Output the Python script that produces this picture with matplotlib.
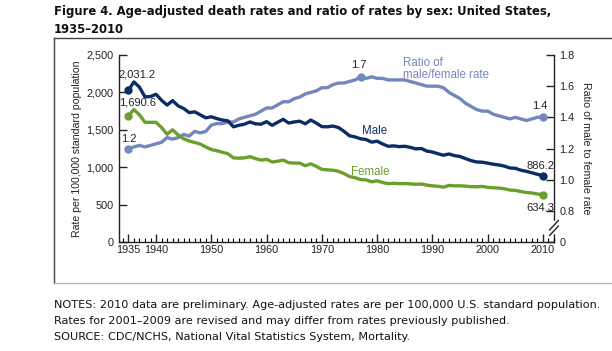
import matplotlib.pyplot as plt
from matplotlib.ticker import MultipleLocator, FuncFormatter
from matplotlib.lines import Line2D

years = list(range(1935, 2011))

male = [2031.2, 2140, 2070, 1940, 1945, 1975, 1895, 1830, 1890, 1820,
        1785, 1730, 1740, 1700, 1660, 1674, 1650, 1630, 1620, 1540,
        1560, 1575, 1605, 1580, 1575, 1609, 1560, 1600, 1640, 1590,
        1605, 1615, 1580, 1630, 1590, 1542, 1540, 1550, 1530, 1480,
        1420, 1405, 1380, 1370, 1335, 1348, 1310, 1280, 1285, 1275,
        1280, 1265, 1245, 1250, 1215, 1203, 1180, 1160, 1177, 1155,
        1143, 1115, 1088, 1070, 1067, 1054, 1040, 1030, 1015, 990,
        985, 960, 945, 925, 905, 886.2]

female = [1690.6, 1770, 1700, 1600, 1600, 1600, 1530, 1440, 1500, 1430,
          1380, 1350, 1330, 1310, 1270, 1236, 1220, 1200, 1180, 1125,
          1120, 1125, 1140, 1115, 1095, 1105, 1070, 1080, 1095, 1060,
          1055, 1055, 1020, 1045, 1010, 971, 965, 960, 945, 915,
          875, 860, 835, 830, 805, 818, 795, 780, 785, 780,
          781, 777, 772, 775, 760, 751, 745, 733, 756, 751,
          751, 747, 740, 738, 743, 731, 725, 721, 712, 695,
          690, 675, 662, 655, 642, 634.3]

ratio = [1.20, 1.21, 1.22, 1.21, 1.22, 1.23, 1.24, 1.27, 1.26, 1.27,
         1.29, 1.28, 1.31, 1.30, 1.31, 1.35, 1.36, 1.36, 1.37, 1.37,
         1.39, 1.40, 1.41, 1.42, 1.44, 1.46, 1.46, 1.48, 1.50, 1.50,
         1.52, 1.53, 1.55, 1.56, 1.57, 1.59, 1.59, 1.61, 1.62, 1.62,
         1.63, 1.64, 1.66, 1.65, 1.66, 1.65, 1.65, 1.64, 1.64, 1.64,
         1.64, 1.63, 1.62, 1.61, 1.60, 1.60, 1.60, 1.59, 1.56, 1.54,
         1.52, 1.49, 1.47, 1.45, 1.44, 1.44, 1.42, 1.41, 1.40, 1.39,
         1.40, 1.39, 1.38, 1.39, 1.40, 1.40]

xtick_years = [1935, 1940, 1950, 1960, 1970, 1980, 1990, 2000, 2010]
ratio_ticks = [0.6, 0.8, 1.0, 1.2, 1.4, 1.6, 1.8]
ratio_tick_labels = ["0", "0.8", "1.0", "1.2", "1.4", "1.6", "1.8"]

MALE_C = "#0b2d64"
FEMALE_C = "#6b9e2c"
RATIO_C = "#7386be"
TXT = "#222222"

W, H = 612, 351
plt.rcParams["font.family"] = ["Liberation Sans", "DejaVu Sans"]

fig = plt.figure(figsize=(W / 100, H / 100), dpi=100)


def fx(px):
    return px / W


def fy(py):
    return 1 - py / H


# outer frame
fig.add_artist(Line2D([fx(54), fx(54)], [fy(38), fy(283)], color="#444444", lw=1))
fig.add_artist(Line2D([fx(54), 1], [fy(38), fy(38)], color="#444444", lw=1))
fig.add_artist(Line2D([fx(54), 1], [fy(283), fy(283)], color="#b5b5b5", lw=1))

ax = fig.add_axes([fx(119), fy(242), fx(554) - fx(119), fy(55) - fy(242)])
ax2 = ax.twinx()

ax.set_xlim(1933.3, 2012)
ax.set_ylim(0, 2500)
ax2.set_ylim(0.6, 1.8)

ax2.plot(years, ratio, color=RATIO_C, lw=2.4, solid_capstyle="round")
ax2.plot([years[0], 1977, years[-1]], [ratio[0], ratio[years.index(1977)], ratio[-1]],
         "o", color=RATIO_C, ms=5)
ax.plot(years, male, color=MALE_C, lw=2.4, solid_capstyle="round")
ax.plot(years, female, color=FEMALE_C, lw=2.4, solid_capstyle="round")
ax.plot([years[0], years[-1]], [male[0], male[-1]], "o", color=MALE_C, ms=5)
ax.plot([years[0], years[-1]], [female[0], female[-1]], "o", color=FEMALE_C, ms=5)
ax.set_zorder(ax2.get_zorder() + 1)
ax.patch.set_visible(False)

for a in (ax, ax2):
    a.spines["top"].set_visible(False)
    for s in a.spines.values():
        s.set_color("#222222")
        s.set_linewidth(1)
ax.spines["right"].set_visible(False)
ax2.spines["left"].set_visible(False)
ax2.spines["bottom"].set_visible(False)

ax.set_xticks(xtick_years)
ax.xaxis.set_minor_locator(MultipleLocator(1))
ax.tick_params(axis="x", which="major", direction="in", length=6, width=1,
               labelsize=7.8, pad=2, colors=TXT)
ax.tick_params(axis="x", which="minor", direction="in", length=3, width=0.8)
ax.yaxis.set_major_locator(MultipleLocator(500))
ax.yaxis.set_major_formatter(FuncFormatter(lambda v, p: f"{int(v):,}"))
ax.tick_params(axis="y", direction="in", length=6, width=1, labelsize=7.8, pad=4,
               colors=TXT)
ax2.set_yticks(ratio_ticks)
ax2.set_yticklabels(ratio_tick_labels)
ax2.tick_params(axis="y", direction="in", length=6, width=1, labelsize=7.8, pad=4,
                colors=TXT)

ax.set_ylabel("Rate per 100,000 standard population", fontsize=7.6, color=TXT,
              labelpad=3)
ax2.set_ylabel("Ratio of male to female rate", fontsize=7.7, color=TXT,
               rotation=270, labelpad=12)

# axis break on right axis
ax2.add_patch(plt.Rectangle((0.99, 0.05), 0.02, 0.06, transform=ax2.transAxes,
                            color="white", clip_on=False, zorder=5))
for yb in (0.06, 0.09):
    ax2.plot([0.99, 1.01], [yb - 0.025, yb + 0.025], transform=ax2.transAxes,
             color="#222222", lw=1, clip_on=False, zorder=6)

fs = 8
ax.annotate("2,031.2", (years[0], male[0]), xytext=(-7, 9), textcoords="offset points",
            fontsize=fs, color=TXT, ha="left")
ax.annotate("1,690.6", (years[0], female[0]), xytext=(-7, 7), textcoords="offset points",
            fontsize=fs, color=TXT, ha="left")
ax2.annotate("1.2", (years[0], ratio[0]), xytext=(-5, 5), textcoords="offset points",
             fontsize=fs, color=TXT, ha="left")
ax2.annotate("1.7", (1977, ratio[years.index(1977)]), xytext=(-1, 6),
             textcoords="offset points", fontsize=fs, color=TXT, ha="center")
ax2.annotate("1.4", (years[-1], ratio[-1]), xytext=(-2, 6), textcoords="offset points",
             fontsize=fs, color=TXT, ha="center")
ax.annotate("886.2", (years[-1], male[-1]), xytext=(-2, 5), textcoords="offset points",
            fontsize=fs, color=TXT, ha="center")
ax.annotate("634.3", (years[-1], female[-1]), xytext=(-2, -12), textcoords="offset points",
            fontsize=fs, color=TXT, ha="center")
ax2.text(1984.7, 1.63, "Ratio of\nmale/female rate", fontsize=8.3, color=RATIO_C,
         ha="left", va="bottom", linespacing=1.0)
ax.text(1979.5, 1484, "Male", fontsize=8.3, color=MALE_C, ha="center", va="center")
ax.text(1978.7, 942, "Female", fontsize=8.3, color=FEMALE_C, ha="center", va="center")

fig.text(fx(54), fy(15), "Figure 4. Age-adjusted death rates and ratio of rates by sex: United States,",
         fontsize=8.4, fontweight="bold", family="DejaVu Sans", color="#111111")
fig.text(fx(54), fy(33), "1935\u20132010", fontsize=8.4, fontweight="bold",
         family="DejaVu Sans", color="#111111")

notes = ["NOTES: 2010 data are preliminary. Age-adjusted rates are per 100,000 U.S. standard population.",
         "Rates for 2001\u20132009 are revised and may differ from rates previously published.",
         "SOURCE: CDC/NCHS, National Vital Statistics System, Mortality."]
for i, line in enumerate(notes):
    fig.text(fx(54), fy(308 + 16 * i), line, fontsize=8.1, family="DejaVu Sans",
             color="#111111")

fig.savefig("out.png", dpi=100)
